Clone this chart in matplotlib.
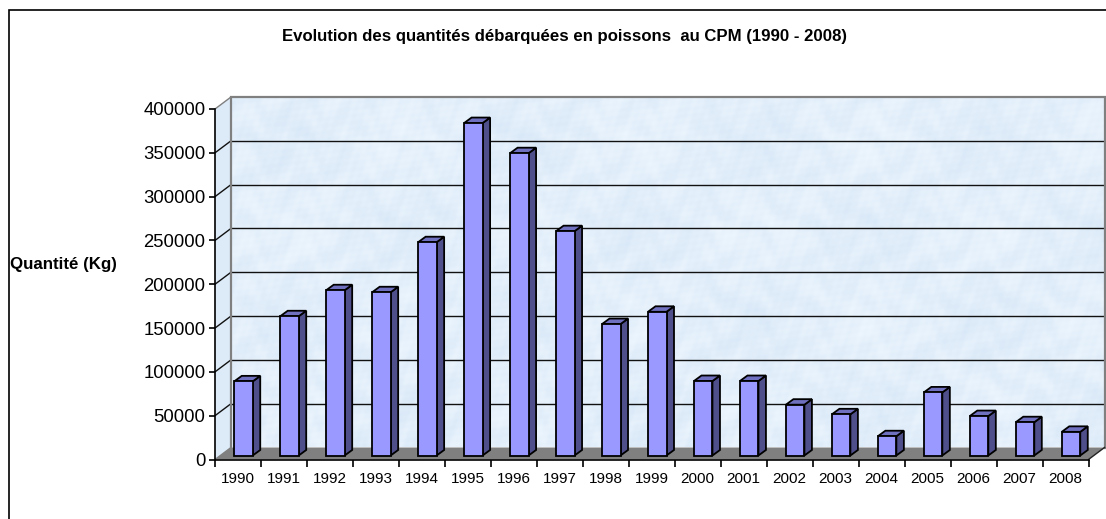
import numpy as np
import matplotlib.pyplot as plt
from matplotlib.patches import Rectangle

years = [1990, 1991, 1992, 1993, 1994, 1995, 1996, 1997, 1998, 1999,
         2000, 2001, 2002, 2003, 2004, 2005, 2006, 2007, 2008]
quantites = [84600, 158900, 188600, 186300, 243400, 379400, 345000, 256000, 150000, 164000,
             85000, 85000, 58000, 47000, 22000, 72000, 45000, 38000, 27000]
yTicks = [0, 50000, 100000, 150000, 200000, 250000, 300000, 350000, 400000]

titre = "Evolution des quantités débarquées en poissons  au CPM (1990 - 2008)"
yLabel = "Quantité (Kg)"

W, H = 1106, 519
left, right, bottom, top = 215, 1088.5, 459.5, 109

plt.rcParams['font.family'] = ['Liberation Sans', 'DejaVu Sans']
fig = plt.figure(figsize=(W / 100, H / 100), dpi=100)
ax = fig.add_axes([left / W, 1 - bottom / H, (right - left) / W, (bottom - top) / H])

# pixel to data scales
xPx = 19 / (right - left)
yPx = 400000 / (bottom - top)
wallDx, wallDy = 16 * xPx, 12 * yPx
barDx, barDy = 5 * xPx, 4 * yPx
sideDx, sideDy = 7.5 * xPx, 5.5 * yPx
barWidth = 18.5 * xPx

# mottled wall texture, no diagonal bands
yy, xx = np.mgrid[0:350, 0:874]
tex = (np.sin(xx / 37.0) * np.sin(yy / 29.0) * 0.7 + np.sin(xx / 11.0 + np.sin(yy / 13.0) * 3) * 0.5
       + np.sin(yy / 7.0 + np.sin(xx / 9.0) * 3) * 0.5 + np.sin(xx / 2.3 + yy / 1.7) * np.sin(xx / 3.1 - yy / 2.9) * 0.4)
tex = (tex - tex.min()) / (tex.max() - tex.min())
base = np.array([0.93, 0.965, 0.995])
dark = np.array([0.85, 0.91, 0.97])
img = base + (dark - base) * tex[:, :, None]
ax.imshow(img, extent=[wallDx, 19 + wallDx, wallDy, 400000 + wallDy], aspect='auto', zorder=1, clip_on=False)

# side wall and floor
ax.fill([0, wallDx, wallDx, 0], [0, wallDy, 400000 + wallDy, 400000], facecolor='#DDEBF8', edgecolor='none', zorder=1, clip_on=False)
ax.fill([0, wallDx, 19 + wallDx, 19], [0, wallDy, wallDy, 0], facecolor='#808080', edgecolor='none', zorder=2, clip_on=False)

# gridlines
for v in yTicks[1:]:
    if v < 400000:
        ax.plot([wallDx, 19 + wallDx], [v + wallDy, v + wallDy], color='#111111', lw=1.0, zorder=2, clip_on=False)
    ax.plot([0, wallDx], [v, v + wallDy], color='#111111' if v < 400000 else '#808080', lw=1.0, zorder=2, clip_on=False)

# wall frame
ax.plot([wallDx, wallDx, 19 + wallDx, 19 + wallDx], [wallDy, 400000 + wallDy, 400000 + wallDy, wallDy],
        color='#808080', lw=1.6, zorder=2.5, clip_on=False, solid_joinstyle='miter')
ax.plot([0, wallDx], [0, wallDy], color='#808080', lw=1.0, zorder=2.5, clip_on=False)
ax.plot([19, 19 + wallDx], [0, wallDy], color='#222222', lw=1.0, zorder=2.5, clip_on=False)

# bars
for i, q in enumerate(quantites):
    x0 = i + 0.5 + barDx - barWidth / 2 + 0.5 * xPx
    x1 = x0 + barWidth
    y0 = barDy
    y1 = barDy + q
    ax.fill([x1, x1 + sideDx, x1 + sideDx, x1], [y0, y0 + sideDy, y1 + sideDy, y1],
            facecolor='#4F4F8C', edgecolor='black', lw=1.3, zorder=3, clip_on=False, joinstyle='miter')
    ax.fill([x0, x0 + sideDx, x1 + sideDx, x1], [y1, y1 + sideDy, y1 + sideDy, y1],
            facecolor='#7070C0', edgecolor='black', lw=1.3, zorder=3, clip_on=False, joinstyle='miter')
    ax.bar(x0, q, width=barWidth, bottom=y0, align='edge', color='#9999FF', edgecolor='black', lw=1.3, zorder=4, clip_on=False)

ax.set_xlim(0, 19)
ax.set_ylim(0, 400000)
ax.set_facecolor('none')
for s in ['top', 'right']:
    ax.spines[s].set_visible(False)
for s in ['left', 'bottom']:
    ax.spines[s].set_linewidth(1.2)
    ax.spines[s].set_zorder(5)

ax.set_yticks(yTicks)
ax.set_yticklabels([str(v) for v in yTicks], fontsize=13.3)
ax.set_xticks(range(20))
ax.set_xticklabels([])
ax.set_xticks([i + 0.5 for i in range(19)], minor=True)
ax.set_xticklabels([str(y) for y in years], minor=True, fontsize=11)
ax.tick_params(axis='y', length=4, width=1.2, pad=3)
ax.tick_params(axis='x', which='major', length=5, width=1.2)
ax.tick_params(axis='x', which='minor', length=0, pad=9)

fig.text(564 / W, 1 - 37 / H, titre, ha='center', va='center', fontsize=12.1, fontweight='bold')
fig.text(10 / W, 1 - 264 / H, yLabel, ha='left', va='center', fontsize=12.2, fontweight='bold')

# chart border runs off the right and bottom of the picture
fig.add_artist(Rectangle((9 / W, -0.1), 1.2, 1.1 - 10 / H, transform=fig.transFigure, fill=False, edgecolor='black', lw=1.2))

fig.savefig('out.png', dpi=100)
